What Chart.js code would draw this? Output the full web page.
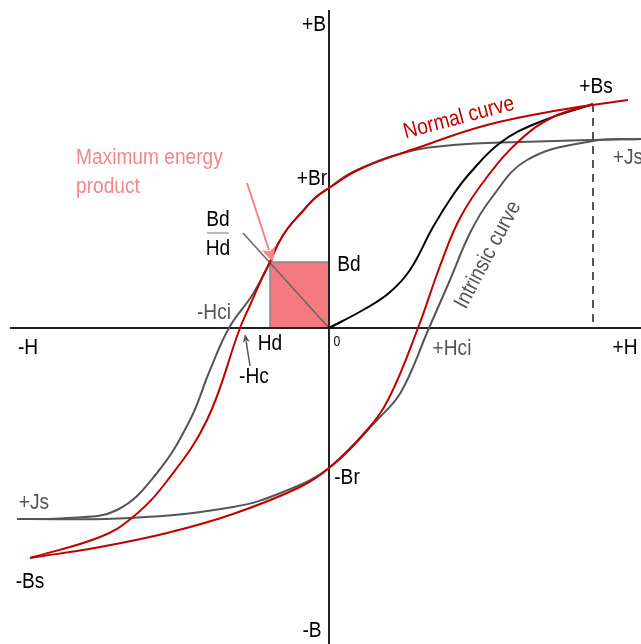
<!DOCTYPE html>
<html>
<head>
<meta charset="utf-8">
<script src="https://cdn.jsdelivr.net/npm/chart.js@4/dist/chart.umd.min.js"></script>
<style>
  html, body { margin: 0; padding: 0; background: #fff; }
  canvas { display: block; }
</style>
</head>
<body>
<canvas id="loopChart" width="641" height="644"></canvas>
<script>
// ------------------- Hysteresis loop data (H, B) -------------------//
var normalDownH = [299, 231, 158, 91, 31, 0, -14, -27, -41, -51, -59, -67, -78, -89, -122, -162, -196, -229, -299];
var normalDownB = [228, 218, 203, 181, 159, 140, 130, 116, 100, 84, 66, 50, 25, 0, -92, -153, -189, -209, -230];

var normalUpH = [-299, -229, -162, -96, -29, 0, 38, 60, 89, 111, 131, 158, 191, 224, 264];
var normalUpB = [-230, -219, -205, -186, -159, -140, -102, -70, 0, 62, 110, 151, 188, 211, 224];

var intrinsicDownH = [312, 191, 124, 74, 24, 0, -14, -27, -41, -51, -59, -67, -78, -100, -119, -139, -172, -212, -262, -312];
var intrinsicDownB = [189, 186, 183, 175, 156, 140, 130, 116, 100, 84, 66, 50, 31, 0, -42, -92, -145, -182, -190, -191];

var intrinsicUpH = [-312, -199, -96, -46, 0, 48, 72, 100, 121, 141, 161, 198, 264, 312];
var intrinsicUpB = [-191, -190, -179, -164, -140, -92, -64, 0, 48, 95, 128, 168, 187, 189];

var initialH = [0, 34, 60, 81, 104, 124, 141, 171, 208, 264];
var initialB = [0, 18, 35, 58, 101, 133, 155, 185, 205, 224];

// operating point (Hd, Bd), saturation field and axis extents
var workH = [-59, -59, 0, 0];
var workB = [0, 66, 66, 0];
var loadLineH = [-86, 0];
var loadLineB = [95, 0];
var bsMarkH = [264, 264];
var bsMarkB = [224, 0];
var axisH = [-319, 312];
var axisB = [318, -316];

function pts(hs, bs) {
  return hs.map(function(h, i) { return { x: h, y: bs[i] }; });
}

var RED = '#c00000', GREY = '#555555', PINK = '#f5858b';

// ------------------- Text labels -------------------//
var labels = [
  { t: '+B', h: -15, b: 303 },
  { t: '-B', h: -17, b: -303 },
  { t: '-H', h: -301, b: -20 },
  { t: '+H', h: 296, b: -20 },
  { t: '+Bs', h: 267, b: 241 },
  { t: '+Js', h: 299, b: 170, c: GREY },
  { t: '+Br', h: -17, b: 149 },
  { t: 'Bd', h: 20, b: 63 },
  { t: 'Bd', h: -111, b: 108 },
  { t: 'Hd', h: -111, b: 79 },
  { t: '-Hci', h: -115, b: 15, c: GREY },
  { t: 'Hd', h: -59, b: -16 },
  { t: '0', h: 8, b: -14, s: 14 },
  { t: '-Hc', h: -75, b: -49 },
  { t: '+Hci', h: 123, b: -21, c: GREY },
  { t: '-Br', h: 18, b: -150 },
  { t: '+Js', h: -295, b: -175, c: GREY },
  { t: '-Bs', h: -299, b: -254 },
  { t: 'Normal curve', h: 130, b: 210, c: RED, r: -15 },
  { t: 'Intrinsic curve', h: 159, b: 73, c: GREY, r: -62 },
  { t: 'Maximum energy', h: -253, b: 170, c: PINK, a: 'left' },
  { t: 'product', h: -253, b: 141, c: PINK, a: 'left' }
];

function arrow(ctx, x1, y1, x2, y2, color, width, head, spread) {
  var ang = Math.atan2(y2 - y1, x2 - x1);
  ctx.strokeStyle = color;
  ctx.fillStyle = color;
  ctx.lineWidth = width;
  ctx.beginPath();
  ctx.moveTo(x1, y1);
  ctx.lineTo(x2 - Math.cos(ang) * head * 0.8, y2 - Math.sin(ang) * head * 0.8);
  ctx.stroke();
  ctx.beginPath();
  ctx.moveTo(x2, y2);
  ctx.lineTo(x2 - head * Math.cos(ang - spread), y2 - head * Math.sin(ang - spread));
  ctx.lineTo(x2 - head * 0.7 * Math.cos(ang), y2 - head * 0.7 * Math.sin(ang));
  ctx.lineTo(x2 - head * Math.cos(ang + spread), y2 - head * Math.sin(ang + spread));
  ctx.closePath();
  ctx.fill();
}

var annotate = {
  id: 'annotate',
  afterDatasetsDraw: function(chart) {
    var ctx = chart.ctx, xs = chart.scales.x, ys = chart.scales.y;
    ctx.save();

    // max energy product arrow and -Hc pointer
    arrow(ctx, xs.getPixelForValue(-82), ys.getPixelForValue(145),
      xs.getPixelForValue(-56), ys.getPixelForValue(66), PINK, 2, 16, 0.45);
    arrow(ctx, xs.getPixelForValue(-79), ys.getPixelForValue(-38),
      xs.getPixelForValue(-84), ys.getPixelForValue(-6), GREY, 1.5, 9, 0.4);

    // fraction bar of Bd/Hd
    ctx.strokeStyle = '#777';
    ctx.lineWidth = 1;
    ctx.beginPath();
    ctx.moveTo(xs.getPixelForValue(-122), ys.getPixelForValue(95));
    ctx.lineTo(xs.getPixelForValue(-100), ys.getPixelForValue(95));
    ctx.stroke();

    labels.forEach(function(l) {
      ctx.save();
      ctx.translate(xs.getPixelForValue(l.h), ys.getPixelForValue(l.b));
      ctx.rotate((l.r || 0) * Math.PI / 180);
      ctx.scale(0.87, 1);
      ctx.font = (l.s || 22) + 'px "Liberation Sans", Arial, sans-serif';
      ctx.fillStyle = l.c || '#000';
      ctx.textAlign = l.a || 'center';
      ctx.textBaseline = 'middle';
      ctx.fillText(l.t, 0, 0);
      ctx.restore();
    });
    ctx.restore();
  }
};

function curve(data, color, order) {
  return {
    data: data, borderColor: color, borderWidth: 2, showLine: true,
    pointRadius: 0, tension: 0.4, fill: false, order: order
  };
}

var ctx = document.getElementById('loopChart');
var myChart = new Chart(ctx, {
  type: 'scatter',
  data: {
    datasets: [
      curve(pts(normalDownH, normalDownB), RED, 1),
      curve(pts(normalUpH, normalUpB), RED, 1),
      curve(pts(intrinsicDownH, intrinsicDownB), GREY, 2),
      curve(pts(intrinsicUpH, intrinsicUpB), GREY, 2),
      curve(pts(initialH, initialB), '#000', 1),
      {
        data: pts(workH, workB), borderColor: '#888', borderWidth: 1.5, showLine: true,
        pointRadius: 0, fill: 'origin', backgroundColor: '#f47a80', order: 6
      },
      {
        data: pts(loadLineH, loadLineB), borderColor: '#666', borderWidth: 1.5,
        showLine: true, pointRadius: 0, order: 4
      },
      {
        data: pts(bsMarkH, bsMarkB), borderColor: GREY, borderWidth: 2, borderDash: [8, 6],
        showLine: true, pointRadius: 0, order: 5
      },
      {
        data: pts(axisH, [0, 0]), borderColor: '#222', borderWidth: 2,
        showLine: true, pointRadius: 0, order: 3
      },
      {
        data: pts([0, 0], axisB), borderColor: '#222', borderWidth: 2,
        showLine: true, pointRadius: 0, order: 3
      }
    ]
  },
  options: {
    responsive: false,
    animation: false,
    layout: { padding: 0 },
    plugins: { legend: { display: false }, tooltip: { enabled: false } },
    scales: {
      x: { type: 'linear', min: -329, max: 312, display: false },
      y: { type: 'linear', min: -316, max: 328, display: false }
    }
  },
  plugins: [annotate]
});
</script>
</body>
</html>
